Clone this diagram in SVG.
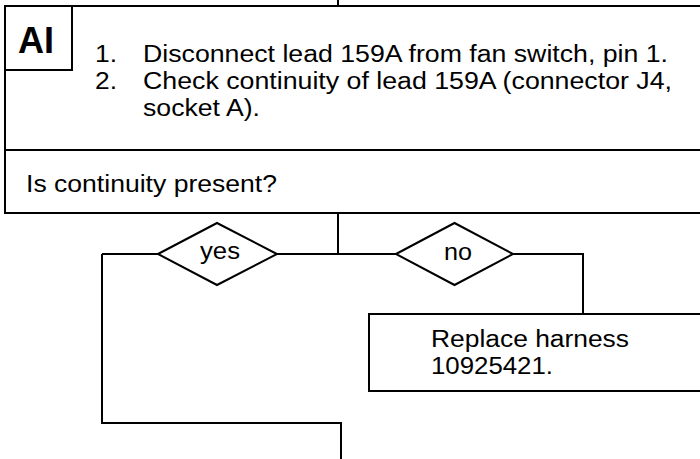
<svg xmlns="http://www.w3.org/2000/svg" width="700" height="459" viewBox="0 0 700 459">
<style>
.ln{fill:none;stroke:#000;stroke-width:2}
.bx{fill:#fff;stroke:#000;stroke-width:2}
.t{font-family:"Liberation Sans",Arial,sans-serif;font-size:23.5px;fill:#000}
.b{font-family:"Liberation Sans",Arial,sans-serif;font-size:36px;font-weight:bold;fill:#000}
</style>
<rect width="700" height="459" fill="#fff"/>
<g id="connectors">
<path class="ln" d="M338 0V6"/>
<path class="ln" d="M338 213V254"/>
<path class="ln" d="M102 254H158M277 254H396M513 254H583V314"/>
<path class="ln" d="M102 254V423H341V459"/>
</g>
<g id="step">
<path class="ln" d="M702 6H5V213H702"/>
<path class="ln" d="M5 150H702"/>
<text class="t" x="95" y="62" textLength="22" lengthAdjust="spacingAndGlyphs">1.</text>
<text class="t" x="143" y="62" textLength="525" lengthAdjust="spacingAndGlyphs">Disconnect lead 159A from fan switch, pin 1.</text>
<text class="t" x="95" y="89" textLength="22" lengthAdjust="spacingAndGlyphs">2.</text>
<text class="t" x="143" y="89" textLength="529" lengthAdjust="spacingAndGlyphs">Check continuity of lead 159A (connector J4,</text>
<text class="t" x="143" y="116" textLength="117" lengthAdjust="spacingAndGlyphs">socket A).</text>
<text class="t" x="26" y="192" textLength="251" lengthAdjust="spacingAndGlyphs">Is continuity present?</text>
</g>
<g id="label-AI">
<rect class="bx" x="5" y="6" width="67" height="64"/>
<text class="b" x="18" y="53">AI</text>
</g>
<g id="yes">
<polygon class="bx" points="158,254 217,223 277,254 217,285"/>
<text class="t" x="200" y="259" textLength="40" lengthAdjust="spacingAndGlyphs">yes</text>
</g>
<g id="no">
<polygon class="bx" points="396,254 454.5,223 513,254 454.5,285"/>
<text class="t" x="444" y="260" textLength="28" lengthAdjust="spacingAndGlyphs">no</text>
</g>
<g id="replace">
<path class="bx" d="M702 314H369V391H702"/>
<text class="t" x="431" y="347" textLength="198" lengthAdjust="spacingAndGlyphs">Replace harness</text>
<text class="t" x="431" y="374" textLength="122" lengthAdjust="spacingAndGlyphs">10925421.</text>
</g>
</svg>
